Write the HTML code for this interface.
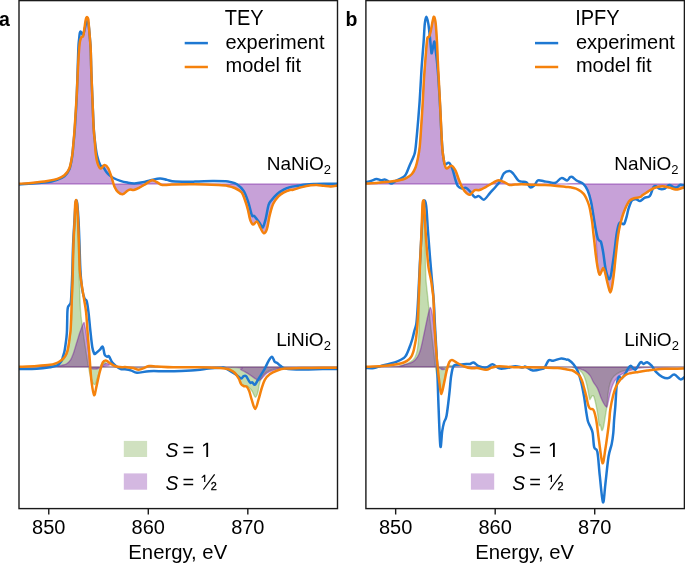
<!DOCTYPE html>
<html><head><meta charset="utf-8"><style>
html,body{margin:0;padding:0;background:#fff;}
body{width:685px;height:564px;overflow:hidden;}
svg{display:block;will-change:transform;font-family:"Liberation Sans",sans-serif;fill:#000;}
svg text{fill:#000;}
</style></head><body>
<svg width="685" height="564" viewBox="0 0 685 564">
<defs>
<clipPath id="ca"><rect x="19" y="0" width="318.5" height="508.5"/></clipPath>
<clipPath id="cb"><rect x="365.9" y="0" width="318.7" height="508.5"/></clipPath>
</defs>
<rect width="685" height="564" fill="#fff"/>
<g clip-path="url(#ca)">
<path d="M19,183.8 C21.37,183.62 28.47,183.17 33.2,182.7 C37.93,182.23 43.38,181.63 47.4,181 C51.42,180.37 54.47,179.85 57.3,178.9 C60.13,177.95 62.38,177.08 64.4,175.3 C66.42,173.52 68.1,171.5 69.4,168.2 C70.7,164.9 71.5,159.98 72.2,155.5 C72.9,151.02 73.2,145.7 73.6,141.3 C74,136.9 74.08,136.8 74.6,129.1 C75.12,121.4 76.1,106.08 76.7,95.1 C77.3,84.12 77.8,70.77 78.2,63.2 C78.6,55.63 78.82,53.25 79.1,49.7 C79.38,46.15 79.53,43.97 79.9,41.9 C80.27,39.83 80.77,38.25 81.3,37.3 C81.83,36.35 82.65,37.2 83.1,36.2 C83.55,35.2 83.68,33.3 84,31.3 C84.32,29.3 84.67,26.33 85,24.2 C85.33,22.07 85.63,19.68 86,18.5 C86.37,17.32 86.82,16.98 87.2,17.1 C87.58,17.22 88,17.43 88.3,19.2 C88.6,20.97 88.73,24.5 89,27.7 C89.27,30.9 89.62,34.73 89.9,38.4 C90.18,42.07 90.45,43.8 90.7,49.7 C90.95,55.6 91.07,64.47 91.4,73.8 C91.73,83.13 92.32,96.48 92.7,105.7 C93.08,114.92 93.37,123.38 93.7,129.1 C94.03,134.82 94.35,135.85 94.7,140 C95.05,144.15 95.32,150.1 95.8,154 C96.28,157.9 96.82,160.97 97.6,163.4 C98.38,165.83 99.33,168.32 100.5,168.6 C101.67,168.88 103.33,165.2 104.6,165.1 C105.87,165 106.93,165.95 108.1,168 C109.27,170.05 110.53,174.28 111.6,177.4 C112.67,180.52 113.43,184.27 114.5,186.7 C115.57,189.13 116.63,190.73 118,192 C119.37,193.27 121.13,194.5 122.7,194.3 C124.27,194.1 126.13,191.58 127.4,190.8 C128.67,190.02 129.23,189.73 130.3,189.6 C131.37,189.47 132.35,190.28 133.8,190 C135.25,189.72 136.97,188.93 139,187.9 C141.03,186.87 143.85,185.07 146,183.8 C148.15,182.53 150.13,180.6 151.9,180.3 C153.67,180 154.85,181.22 156.6,182 C158.35,182.78 159.88,184.58 162.4,185 C164.92,185.42 166.27,184.62 171.7,184.5 C177.13,184.38 187.22,184.2 195,184.3 C202.78,184.4 212.95,184.83 218.4,185.1 C223.85,185.37 224.98,185.42 227.7,185.9 C230.42,186.38 232.4,186.93 234.7,188 C237,189.07 239.78,190.25 241.5,192.3 C243.22,194.35 243.93,197.42 245,200.3 C246.07,203.18 247.03,206.33 247.9,209.6 C248.77,212.87 249.35,217.42 250.2,219.9 C251.05,222.38 251.85,224.22 253,224.5 C254.15,224.78 255.85,221.02 257.1,221.6 C258.35,222.18 259.4,226.07 260.5,228 C261.6,229.93 262.63,233.02 263.7,233.2 C264.77,233.38 265.9,232.08 266.9,229.1 C267.9,226.12 268.65,219.52 269.7,215.3 C270.75,211.08 271.75,206.97 273.2,203.8 C274.65,200.63 276.58,198.22 278.4,196.3 C280.22,194.38 282.17,193.35 284.1,192.3 C286.03,191.25 288.5,190.43 290,190 C291.5,189.57 291.12,190.18 293.1,189.7 C295.08,189.22 298.97,187.83 301.9,187.1 C304.83,186.37 308.22,185.67 310.7,185.3 C313.18,184.93 314.62,184.82 316.8,184.9 C318.98,184.98 321.47,185.53 323.8,185.8 C326.13,186.07 328.52,186.53 330.8,186.5 C333.08,186.47 336.38,185.75 337.5,185.6 L337.5,183.95 L19,183.95 Z" fill="rgb(104,1,150)" fill-opacity="0.37" stroke="rgb(104,1,150)" stroke-opacity="0.37" stroke-width="1.4" stroke-linejoin="round"/>
<path d="M19,367 C24.17,366.8 43.88,366.27 50,365.8 C56.12,365.33 54.05,364.8 55.7,364.2 C57.35,363.6 58.6,363 59.9,362.2 C61.2,361.4 62.48,360.47 63.5,359.4 C64.52,358.33 65.3,357.2 66,355.8 C66.7,354.4 67.2,352.97 67.7,351 C68.2,349.03 68.63,346.33 69,344 C69.37,341.67 69.6,339.33 69.9,337 C70.2,334.67 70.53,333.17 70.8,330 C71.07,326.83 71.28,323 71.5,318 C71.72,313 71.88,306.33 72.1,300 C72.32,293.67 72.53,289.22 72.8,280 C73.07,270.78 73.37,254.37 73.7,244.7 C74.03,235.03 74.38,229.2 74.8,222 C75.22,214.8 75.75,201.5 76.2,201.5 C76.65,201.5 77.15,214.75 77.5,222 C77.85,229.25 78.05,237 78.3,245 C78.55,253 78.8,263.33 79,270 C79.2,276.67 79.25,278.33 79.5,285 C79.75,291.67 80.07,303.37 80.5,310 C80.93,316.63 81.48,319.83 82.1,324.8 C82.72,329.77 83.43,334.62 84.2,339.8 C84.97,344.98 85.98,351.37 86.7,355.9 C87.42,360.43 87.78,363.32 88.5,367 C89.22,370.68 89.95,375.07 91,378 C92.05,380.93 93.63,384.93 94.8,384.6 C95.97,384.27 96.97,378.93 98,376 C99.03,373.07 100.08,369.37 101,367 C101.92,364.63 102.67,362.47 103.5,361.8 C104.33,361.13 104.92,362.13 106,363 C107.08,363.87 90.67,366.32 110,367 C129.33,367.68 202.5,366.97 222,367.1 C241.5,367.23 225.58,367.43 227,367.8 C228.42,368.17 229.18,368.5 230.5,369.3 C231.82,370.1 233.53,371.15 234.9,372.6 C236.27,374.05 237.67,376.22 238.7,378 C239.73,379.78 240.28,382.08 241.1,383.3 C241.92,384.52 242.67,384.85 243.6,385.3 C244.53,385.75 245.72,385.55 246.7,386 C247.68,386.45 248.62,387.17 249.5,388 C250.38,388.83 251.02,389.47 252,391 C252.98,392.53 254.42,397 255.4,397.2 C256.38,397.4 257.17,394.68 257.9,392.2 C258.63,389.72 258.87,385.2 259.8,382.3 C260.73,379.4 261.85,376.77 263.5,374.8 C265.15,372.83 267.42,371.53 269.7,370.5 C271.98,369.47 274.65,369.08 277.2,368.6 C279.75,368.12 281.2,367.85 285,367.6 C288.8,367.35 291.25,367.2 300,367.1 C308.75,367 331.25,367.02 337.5,367 L337.5,367 L19,367 Z" fill="rgb(95,160,42)" fill-opacity="0.37" stroke="rgb(95,160,42)" stroke-opacity="0.37" stroke-width="1.4" stroke-linejoin="round"/>
<path d="M19,367 C25.35,366.8 49.93,366.1 57.1,365.8 C64.27,365.5 60.47,365.5 62,365.2 C63.53,364.9 64.87,364.9 66.3,364 C67.73,363.1 69.42,361.57 70.6,359.8 C71.78,358.03 72.47,356 73.4,353.4 C74.33,350.8 75.37,346.92 76.2,344.2 C77.03,341.48 77.77,339.12 78.4,337.1 C79.03,335.08 79.12,334.48 80,332.1 C80.88,329.72 82.92,323.9 83.7,322.8 C84.48,321.7 84.35,324.12 84.7,325.5 C85.05,326.88 85.42,328.68 85.8,331.1 C86.18,333.52 86.58,336.85 87,340 C87.42,343.15 87.9,346.67 88.3,350 C88.7,353.33 89.08,357.17 89.4,360 C89.72,362.83 89.77,365.53 90.2,367 C90.63,368.47 91.13,368.45 92,368.8 C92.87,369.15 94.4,369.15 95.4,369.1 C96.4,369.05 97.07,368.85 98,368.5 C98.93,368.15 100,367.67 101,367 C102,366.33 102.97,365.08 104,364.5 C105.03,363.92 106.2,363.45 107.2,363.5 C108.2,363.55 108.97,364.22 110,364.8 C111.03,365.38 93.4,366.6 113.4,367 C133.4,367.4 208.72,366.73 230,367.2 C251.28,367.67 237.8,368.53 241.1,369.8 C244.4,371.07 247.3,373.23 249.8,374.8 C252.3,376.37 254.53,378.27 256.1,379.2 C257.67,380.13 258.17,380.62 259.2,380.4 C260.23,380.18 260.97,379.13 262.3,377.9 C263.63,376.67 265.13,374.35 267.2,373 C269.27,371.65 271.73,370.63 274.7,369.8 C277.67,368.97 280.78,368.43 285,368 C289.22,367.57 291.25,367.37 300,367.2 C308.75,367.03 331.25,367.03 337.5,367 L337.5,367 L19,367 Z" fill="rgb(104,1,150)" fill-opacity="0.37" stroke="rgb(104,1,150)" stroke-opacity="0.37" stroke-width="1.4" stroke-linejoin="round"/>
<path d="M19,184.4 C23.67,184.05 40.67,183.07 47,182.3 C53.33,181.53 54.1,180.8 57,179.8 C59.9,178.8 62.33,178.05 64.4,176.3 C66.47,174.55 68.13,172.43 69.4,169.3 C70.67,166.17 71.32,161.88 72,157.5 C72.68,153.12 73.03,147.75 73.5,143 C73.97,138.25 74.25,136.98 74.8,129 C75.35,121.02 76.22,108.32 76.8,95.1 C77.38,81.88 77.9,59.15 78.3,49.7 C78.7,40.25 78.95,41.18 79.2,38.4 C79.45,35.62 79.58,34.17 79.8,33 C80.02,31.83 80.18,31.45 80.5,31.4 C80.82,31.35 81.28,32.07 81.7,32.7 C82.12,33.33 82.53,35.65 83,35.2 C83.47,34.75 84,31.95 84.5,30 C85,28.05 85.55,24.92 86,23.5 C86.45,22.08 86.82,21.58 87.2,21.5 C87.58,21.42 88,21.92 88.3,23 C88.6,24.08 88.73,25.43 89,28 C89.27,30.57 89.62,34.78 89.9,38.4 C90.18,42.02 90.45,43.8 90.7,49.7 C90.95,55.6 91.07,64.47 91.4,73.8 C91.73,83.13 92.3,96.48 92.7,105.7 C93.1,114.92 93.42,123.05 93.8,129.1 C94.18,135.15 94.47,137.65 95,142 C95.53,146.35 96.08,151.25 97,155.2 C97.92,159.15 99.53,163.85 100.5,165.7 C101.47,167.55 101.82,165.23 102.8,166.3 C103.78,167.37 105.32,170.65 106.4,172.1 C107.48,173.55 108.13,174.02 109.3,175 C110.47,175.98 111.55,177.02 113.4,178 C115.25,178.98 118.07,180.13 120.4,180.9 C122.73,181.67 125.07,182.18 127.4,182.6 C129.73,183.02 131.87,183.45 134.4,183.4 C136.93,183.35 139.88,182.82 142.6,182.3 C145.32,181.78 147.8,180.93 150.7,180.3 C153.6,179.67 157.28,178.57 160,178.5 C162.72,178.43 164.47,179.38 167,179.9 C169.53,180.42 170.53,181.32 175.2,181.6 C179.87,181.88 188.77,181.7 195,181.6 C201.23,181.5 207.53,181.05 212.6,181 C217.67,180.95 222.5,181.15 225.4,181.3 C228.3,181.45 228.08,181.42 230,181.9 C231.92,182.38 234.6,182.67 236.9,184.2 C239.2,185.73 241.88,188.03 243.8,191.1 C245.72,194.17 247.05,198.57 248.4,202.6 C249.75,206.63 250.93,213.08 251.9,215.3 C252.87,217.52 253.43,215.32 254.2,215.9 C254.97,216.48 255.55,217.55 256.5,218.8 C257.45,220.05 258.85,221.97 259.9,223.4 C260.95,224.83 261.83,228.17 262.8,227.4 C263.77,226.63 264.73,222.55 265.7,218.8 C266.67,215.05 267.63,207.98 268.6,204.9 C269.57,201.82 270.07,202.12 271.5,200.3 C272.93,198.48 275.1,195.82 277.2,194 C279.3,192.18 281.97,190.55 284.1,189.4 C286.23,188.25 287.77,187.7 290,187.1 C292.23,186.5 294.78,186.23 297.5,185.8 C300.22,185.37 303.38,184.8 306.3,184.5 C309.22,184.2 312.08,184.12 315,184 C317.92,183.88 320.05,183.83 323.8,183.8 C327.55,183.77 335.22,183.8 337.5,183.8" fill="none" stroke="#1e78d2" stroke-width="2.5" stroke-linejoin="round" stroke-linecap="round"/>
<path d="M19,183.8 C21.37,183.62 28.47,183.17 33.2,182.7 C37.93,182.23 43.38,181.63 47.4,181 C51.42,180.37 54.47,179.85 57.3,178.9 C60.13,177.95 62.38,177.08 64.4,175.3 C66.42,173.52 68.1,171.5 69.4,168.2 C70.7,164.9 71.5,159.98 72.2,155.5 C72.9,151.02 73.2,145.7 73.6,141.3 C74,136.9 74.08,136.8 74.6,129.1 C75.12,121.4 76.1,106.08 76.7,95.1 C77.3,84.12 77.8,70.77 78.2,63.2 C78.6,55.63 78.82,53.25 79.1,49.7 C79.38,46.15 79.53,43.97 79.9,41.9 C80.27,39.83 80.77,38.25 81.3,37.3 C81.83,36.35 82.65,37.2 83.1,36.2 C83.55,35.2 83.68,33.3 84,31.3 C84.32,29.3 84.67,26.33 85,24.2 C85.33,22.07 85.63,19.68 86,18.5 C86.37,17.32 86.82,16.98 87.2,17.1 C87.58,17.22 88,17.43 88.3,19.2 C88.6,20.97 88.73,24.5 89,27.7 C89.27,30.9 89.62,34.73 89.9,38.4 C90.18,42.07 90.45,43.8 90.7,49.7 C90.95,55.6 91.07,64.47 91.4,73.8 C91.73,83.13 92.32,96.48 92.7,105.7 C93.08,114.92 93.37,123.38 93.7,129.1 C94.03,134.82 94.35,135.85 94.7,140 C95.05,144.15 95.32,150.1 95.8,154 C96.28,157.9 96.82,160.97 97.6,163.4 C98.38,165.83 99.33,168.32 100.5,168.6 C101.67,168.88 103.33,165.2 104.6,165.1 C105.87,165 106.93,165.95 108.1,168 C109.27,170.05 110.53,174.28 111.6,177.4 C112.67,180.52 113.43,184.27 114.5,186.7 C115.57,189.13 116.63,190.73 118,192 C119.37,193.27 121.13,194.5 122.7,194.3 C124.27,194.1 126.13,191.58 127.4,190.8 C128.67,190.02 129.23,189.73 130.3,189.6 C131.37,189.47 132.35,190.28 133.8,190 C135.25,189.72 136.97,188.93 139,187.9 C141.03,186.87 143.85,185.07 146,183.8 C148.15,182.53 150.13,180.6 151.9,180.3 C153.67,180 154.85,181.22 156.6,182 C158.35,182.78 159.88,184.58 162.4,185 C164.92,185.42 166.27,184.62 171.7,184.5 C177.13,184.38 187.22,184.2 195,184.3 C202.78,184.4 212.95,184.83 218.4,185.1 C223.85,185.37 224.98,185.42 227.7,185.9 C230.42,186.38 232.4,186.93 234.7,188 C237,189.07 239.78,190.25 241.5,192.3 C243.22,194.35 243.93,197.42 245,200.3 C246.07,203.18 247.03,206.33 247.9,209.6 C248.77,212.87 249.35,217.42 250.2,219.9 C251.05,222.38 251.85,224.22 253,224.5 C254.15,224.78 255.85,221.02 257.1,221.6 C258.35,222.18 259.4,226.07 260.5,228 C261.6,229.93 262.63,233.02 263.7,233.2 C264.77,233.38 265.9,232.08 266.9,229.1 C267.9,226.12 268.65,219.52 269.7,215.3 C270.75,211.08 271.75,206.97 273.2,203.8 C274.65,200.63 276.58,198.22 278.4,196.3 C280.22,194.38 282.17,193.35 284.1,192.3 C286.03,191.25 288.5,190.43 290,190 C291.5,189.57 291.12,190.18 293.1,189.7 C295.08,189.22 298.97,187.83 301.9,187.1 C304.83,186.37 308.22,185.67 310.7,185.3 C313.18,184.93 314.62,184.82 316.8,184.9 C318.98,184.98 321.47,185.53 323.8,185.8 C326.13,186.07 328.52,186.53 330.8,186.5 C333.08,186.47 336.38,185.75 337.5,185.6" fill="none" stroke="#f5820c" stroke-width="2.5" stroke-linejoin="round" stroke-linecap="round"/>
<path d="M19,369 C21.95,368.97 31.53,369.1 36.7,368.8 C41.87,368.5 46.6,367.75 50,367.2 C53.4,366.65 55.22,366.5 57.1,365.5 C58.98,364.5 60.3,362.75 61.3,361.2 C62.3,359.65 62.57,357.85 63.1,356.2 C63.63,354.55 64.08,353.3 64.5,351.3 C64.92,349.3 65.27,346.57 65.6,344.2 C65.93,341.83 66.27,339.47 66.5,337.1 C66.73,334.73 66.85,334.18 67,330 C67.15,325.82 67.23,315.83 67.4,312 C67.57,308.17 67.68,308.17 68,307 C68.32,305.83 68.82,305.92 69.3,305 C69.78,304.08 70.48,304.83 70.9,301.5 C71.32,298.17 71.55,290.25 71.8,285 C72.05,279.75 72.18,276.67 72.4,270 C72.62,263.33 72.77,253 73.1,245 C73.43,237 74,228.83 74.4,222 C74.8,215.17 75.17,207.62 75.5,204 C75.83,200.38 76.1,200.3 76.4,200.3 C76.7,200.3 76.93,200.38 77.3,204 C77.67,207.62 78.23,215.17 78.6,222 C78.97,228.83 79.2,237 79.5,245 C79.8,253 79.97,262.73 80.4,270 C80.83,277.27 81.42,283.85 82.1,288.6 C82.78,293.35 83.73,296.4 84.5,298.5 C85.27,300.6 86.03,298.88 86.7,301.2 C87.37,303.52 87.88,307.42 88.5,312.4 C89.12,317.38 89.77,325.3 90.4,331.1 C91.03,336.9 91.68,343.48 92.3,347.2 C92.92,350.92 93.58,352.33 94.1,353.4 C94.62,354.47 94.47,354.18 95.4,353.6 C96.33,353.02 98.47,351.03 99.7,349.9 C100.93,348.77 101.97,345.98 102.8,346.8 C103.63,347.62 103.97,353.15 104.7,354.8 C105.43,356.45 106.48,356.45 107.2,356.7 C107.92,356.95 108.18,355.37 109,356.3 C109.82,357.23 110.95,360.68 112.1,362.3 C113.25,363.92 114.45,364.87 115.9,366 C117.35,367.13 119.28,368.55 120.8,369.1 C122.32,369.65 123.23,369.05 125,369.3 C126.77,369.55 129.4,370.02 131.4,370.6 C133.4,371.18 134.05,372.7 137,372.8 C139.95,372.9 144.42,371.47 149.1,371.2 C153.78,370.93 159.75,371.25 165.1,371.2 C170.45,371.15 175.83,371.08 181.2,370.9 C186.57,370.72 192.75,370.5 197.3,370.1 C201.85,369.7 204.48,368.9 208.5,368.5 C212.52,368.1 218.65,367.78 221.4,367.7 C224.15,367.62 223.37,367.33 225,368 C226.63,368.67 229.33,370.57 231.2,371.7 C233.07,372.83 234.55,373.67 236.2,374.8 C237.85,375.93 239.87,378.28 241.1,378.5 C242.33,378.72 242.77,376.5 243.6,376.1 C244.43,375.7 245.27,375.38 246.1,376.1 C246.93,376.82 247.87,379.27 248.6,380.4 C249.33,381.53 249.88,382.58 250.5,382.9 C251.12,383.22 251.58,381.98 252.3,382.3 C253.02,382.62 253.97,385.02 254.8,384.8 C255.63,384.58 256.27,382.67 257.3,381 C258.33,379.33 259.75,376.87 261,374.8 C262.25,372.73 263.55,370.88 264.8,368.6 C266.05,366.32 267.3,363.07 268.5,361.1 C269.7,359.13 270.97,356.68 272,356.8 C273.03,356.92 273.83,360.77 274.7,361.8 C275.57,362.83 276.17,362.28 277.2,363 C278.23,363.72 279.55,365.2 280.9,366.1 C282.25,367 281.9,367.83 285.3,368.4 C288.7,368.97 295.08,369.38 301.3,369.5 C307.52,369.62 316.57,369.2 322.6,369.1 C328.63,369 335.02,368.93 337.5,368.9" fill="none" stroke="#1e78d2" stroke-width="2.5" stroke-linejoin="round" stroke-linecap="round"/>
<path d="M19,366.8 C21.95,366.65 31.53,366.23 36.7,365.9 C41.87,365.57 46.83,365.23 50,364.8 C53.17,364.37 54.05,363.9 55.7,363.3 C57.35,362.7 58.6,362.02 59.9,361.2 C61.2,360.38 62.48,359.47 63.5,358.4 C64.52,357.33 65.3,356.22 66,354.8 C66.7,353.38 67.2,351.9 67.7,349.9 C68.2,347.9 68.63,345.17 69,342.8 C69.37,340.43 69.63,337.83 69.9,335.7 C70.17,333.57 70.38,332.95 70.6,330 C70.82,327.05 71,323 71.2,318 C71.4,313 71.57,306.33 71.8,300 C72.03,293.67 72.33,289.22 72.6,280 C72.87,270.78 73.07,254.43 73.4,244.7 C73.73,234.97 74.3,228.38 74.6,221.6 C74.9,214.82 74.95,207.62 75.2,204 C75.45,200.38 75.8,199.9 76.1,199.9 C76.4,199.9 76.67,200.38 77,204 C77.33,207.62 77.77,214.82 78.1,221.6 C78.43,228.38 78.72,236.63 79,244.7 C79.28,252.77 79.35,263.3 79.8,270 C80.25,276.7 80.97,279.9 81.7,284.9 C82.43,289.9 83.47,295.42 84.2,300 C84.93,304.58 85.55,307.22 86.1,312.4 C86.65,317.58 87.08,325.67 87.5,331.1 C87.92,336.53 88.32,341.52 88.6,345 C88.88,348.48 88.93,348.5 89.2,352 C89.47,355.5 89.8,360.98 90.2,366 C90.6,371.02 90.95,377.23 91.6,382.1 C92.25,386.97 93.27,394.57 94.1,395.2 C94.93,395.83 95.67,389.73 96.6,385.9 C97.53,382.07 98.67,376.13 99.7,372.2 C100.73,368.27 101.77,364.27 102.8,362.3 C103.83,360.33 104.77,360.3 105.9,360.4 C107.03,360.5 108.15,361.97 109.6,362.9 C111.05,363.83 112.52,365.28 114.6,366 C116.68,366.72 120.37,367.05 122.1,367.2 C123.83,367.35 123.18,366.77 125,366.9 C126.82,367.03 130.58,367.55 133,368 C135.42,368.45 136.82,369.92 139.5,369.6 C142.18,369.28 146.17,366.62 149.1,366.1 C152.03,365.58 153.08,366.3 157.1,366.5 C161.12,366.7 166.5,367.17 173.2,367.3 C179.9,367.43 190.35,367.23 197.3,367.3 C204.25,367.37 210.28,367.48 214.9,367.7 C219.52,367.92 222.48,368.25 225,368.6 C227.52,368.95 228.35,369.07 230,369.8 C231.65,370.53 233.45,371.55 234.9,373 C236.35,374.45 237.67,376.65 238.7,378.5 C239.73,380.35 240.28,382.85 241.1,384.1 C241.92,385.35 242.67,385.58 243.6,386 C244.53,386.42 245.77,385.77 246.7,386.6 C247.63,387.43 248.37,388.82 249.2,391 C250.03,393.18 250.7,396.7 251.7,399.7 C252.7,402.7 254.07,409 255.2,409 C256.33,409 257.43,403.12 258.5,399.7 C259.57,396.28 260.55,391.82 261.6,388.5 C262.65,385.18 263.45,382.18 264.8,379.8 C266.15,377.42 267.63,375.75 269.7,374.2 C271.77,372.65 274.65,371.43 277.2,370.5 C279.75,369.57 280.98,369 285,368.6 C289.02,368.2 295.03,368.25 301.3,368.1 C307.57,367.95 316.57,367.77 322.6,367.7 C328.63,367.63 335.02,367.7 337.5,367.7" fill="none" stroke="#f5820c" stroke-width="2.5" stroke-linejoin="round" stroke-linecap="round"/>
</g>
<g clip-path="url(#cb)">
<path d="M366,183.6 C368.07,183.45 374.27,183.05 378.4,182.7 C382.53,182.35 387.28,181.92 390.8,181.5 C394.32,181.08 397.02,180.72 399.5,180.2 C401.98,179.68 403.63,179.43 405.7,178.4 C407.77,177.37 410.25,175.87 411.9,174 C413.55,172.13 414.57,169.98 415.6,167.2 C416.63,164.42 417.4,160.83 418.1,157.3 C418.8,153.77 419.27,151.38 419.8,146 C420.33,140.62 420.83,131.88 421.3,125 C421.77,118.12 422.18,111.87 422.6,104.7 C423.02,97.53 423.47,87.78 423.8,82 C424.13,76.22 424.27,74.57 424.6,70 C424.93,65.43 425.35,59.85 425.8,54.6 C426.25,49.35 426.73,41.5 427.3,38.5 C427.87,35.5 428.58,38.05 429.2,36.6 C429.82,35.15 430.38,32.58 431,29.8 C431.62,27.02 432.38,22.07 432.9,19.9 C433.42,17.73 433.63,16.18 434.1,16.8 C434.57,17.42 435.22,19.37 435.7,23.6 C436.18,27.83 436.65,36 437,42.2 C437.35,48.4 437.52,54.83 437.8,60.8 C438.08,66.77 438.32,70.68 438.7,78 C439.08,85.32 439.67,96.03 440.1,104.7 C440.53,113.37 440.93,122.68 441.3,130 C441.67,137.32 441.93,143.93 442.3,148.6 C442.67,153.27 443.08,155.27 443.5,158 C443.92,160.73 444.27,163.23 444.8,165 C445.33,166.77 445.6,168.48 446.7,168.6 C447.8,168.72 449.95,165.4 451.4,165.7 C452.85,166 454.15,168.07 455.4,170.4 C456.65,172.73 457.73,176.78 458.9,179.7 C460.07,182.62 461.13,185.67 462.4,187.9 C463.67,190.13 465.23,191.97 466.5,193.1 C467.77,194.23 468.63,195.18 470,194.7 C471.37,194.22 473.13,190.98 474.7,190.2 C476.27,189.42 477.45,190.58 479.4,190 C481.35,189.42 484.07,187.93 486.4,186.7 C488.73,185.47 491.37,183.67 493.4,182.6 C495.43,181.53 496.65,180.3 498.6,180.3 C500.55,180.3 503.25,181.82 505.1,182.6 C506.95,183.38 506.93,184.73 509.7,185 C512.47,185.27 517.75,184.23 521.7,184.2 C525.65,184.17 529.52,184.75 533.4,184.8 C537.28,184.85 541.12,184.6 545,184.5 C548.88,184.4 553.18,184.28 556.7,184.2 C560.22,184.12 563.05,184.1 566.1,184 C569.15,183.9 572.13,183.62 575,183.6 C577.87,183.58 581.18,182.75 583.3,183.9 C585.42,185.05 586.42,187.55 587.7,190.5 C588.98,193.45 590.07,197.53 591,201.6 C591.93,205.67 592.63,210.47 593.3,214.9 C593.97,219.33 594.48,223.18 595,228.2 C595.52,233.22 595.95,238.37 596.4,245 C596.85,251.63 597.18,263.05 597.7,268 C598.22,272.95 598.87,274.12 599.5,274.7 C600.13,275.28 600.88,272.62 601.5,271.5 C602.12,270.38 602.63,267.92 603.2,268 C603.77,268.08 604.33,270.15 604.9,272 C605.47,273.85 606,276.6 606.6,279.1 C607.2,281.6 607.88,284.78 608.5,287 C609.12,289.22 609.73,292.32 610.3,292.4 C610.87,292.48 611.42,289.72 611.9,287.5 C612.38,285.28 612.8,282.02 613.2,279.1 C613.6,276.18 613.93,273.32 614.3,270 C614.67,266.68 614.85,264.33 615.4,259.2 C615.95,254.07 616.97,244.23 617.6,239.2 C618.23,234.17 618.63,231.95 619.2,229 C619.77,226.05 620.37,223.92 621,221.5 C621.63,219.08 622.27,216.72 623,214.5 C623.73,212.28 624.65,209.98 625.4,208.2 C626.15,206.42 626.77,205.08 627.5,203.8 C628.23,202.52 628.68,201.42 629.8,200.5 C630.92,199.58 632.5,198.85 634.2,198.3 C635.9,197.75 638.58,197.73 640,197.2 C641.42,196.67 641.37,196.03 642.7,195.1 C644.03,194.17 646.08,192.78 648,191.6 C649.92,190.42 651.83,188.88 654.2,188 C656.57,187.12 659.68,186.37 662.2,186.3 C664.72,186.23 667.08,187.08 669.3,187.6 C671.52,188.12 673.72,189.2 675.5,189.4 C677.28,189.6 678.5,189.17 680,188.8 C681.5,188.43 683.75,187.47 684.5,187.2 L684.5,183.95 L366,183.95 Z" fill="rgb(104,1,150)" fill-opacity="0.37" stroke="rgb(104,1,150)" stroke-opacity="0.37" stroke-width="1.4" stroke-linejoin="round"/>
<path d="M366,367 C370.83,366.92 389.33,366.7 395,366.5 C400.67,366.3 398,366.27 400,365.8 C402,365.33 404.78,364.72 407,363.7 C409.22,362.68 411.72,361.42 413.3,359.7 C414.88,357.98 415.72,355.9 416.5,353.4 C417.28,350.9 417.58,348.6 418,344.7 C418.42,340.8 418.73,339.95 419,330 C419.27,320.05 419.37,295.83 419.6,285 C419.83,274.17 420.12,272 420.4,265 C420.68,258 420.93,251.33 421.3,243 C421.67,234.67 422.2,221.83 422.6,215 C423,208.17 423.37,202 423.7,202 C424.03,202 424.35,208.67 424.6,215 C424.85,221.33 425.05,231.67 425.2,240 C425.35,248.33 425.37,258.33 425.5,265 C425.63,271.67 425.62,274.55 426,280 C426.38,285.45 427.05,290.32 427.8,297.7 C428.55,305.08 429.52,315.42 430.5,324.3 C431.48,333.18 432.88,343.88 433.7,351 C434.52,358.12 434.68,362.17 435.4,367 C436.12,371.83 437.02,376.08 438,380 C438.98,383.92 440.22,390.5 441.3,390.5 C442.38,390.5 443.62,383.92 444.5,380 C445.38,376.08 445.68,369.42 446.6,367 C447.52,364.58 448.6,365.58 450,365.5 C451.4,365.42 452.5,366.25 455,366.5 C457.5,366.75 445.83,366.92 465,367 C484.17,367.08 552.17,366.97 570,367 C587.83,367.03 571.08,367.03 572,367.2 C572.92,367.37 574.43,367.65 575.5,368 C576.57,368.35 577.22,368.38 578.4,369.3 C579.58,370.22 581.37,371.55 582.6,373.5 C583.83,375.45 584.9,378.17 585.8,381 C586.7,383.83 587.37,387.5 588,390.5 C588.63,393.5 589.13,397.75 589.6,399 C590.07,400.25 590.37,398.52 590.8,398 C591.23,397.48 591.7,396.17 592.2,395.9 C592.7,395.63 593.27,395.35 593.8,396.4 C594.33,397.45 594.78,399.45 595.4,402.2 C596.02,404.95 596.88,409.1 597.5,412.9 C598.12,416.7 598.62,422.97 599.1,425 C599.58,427.03 599.95,424.2 600.4,425.1 C600.85,426 601.28,430.08 601.8,430.4 C602.32,430.72 602.88,429.57 603.5,427 C604.12,424.43 604.95,418.38 605.5,415 C606.05,411.62 606.35,410.45 606.8,406.7 C607.25,402.95 607.62,396.52 608.2,392.5 C608.78,388.48 609.35,385.32 610.3,382.6 C611.25,379.88 612.23,377.97 613.9,376.2 C615.57,374.43 618.07,373.07 620.3,372 C622.53,370.93 624.85,370.47 627.3,369.8 C629.75,369.13 632.05,368.43 635,368 C637.95,367.57 636.75,367.37 645,367.2 C653.25,367.03 677.92,367.03 684.5,367 L684.5,367 L366,367 Z" fill="rgb(95,160,42)" fill-opacity="0.37" stroke="rgb(95,160,42)" stroke-opacity="0.37" stroke-width="1.4" stroke-linejoin="round"/>
<path d="M366,367 C370.83,366.97 388.5,367.2 395,366.8 C401.5,366.4 402.08,365.38 405,364.6 C407.92,363.82 410.43,363.35 412.5,362.1 C414.57,360.85 416.07,359.17 417.4,357.1 C418.73,355.03 419.47,353.22 420.5,349.7 C421.53,346.18 422.57,340.77 423.6,336 C424.63,331.23 425.83,325.1 426.7,321.1 C427.57,317.1 428.17,314.27 428.8,312 C429.43,309.73 429.93,307.17 430.5,307.5 C431.07,307.83 431.68,311.12 432.2,314 C432.72,316.88 432.95,319.27 433.6,324.8 C434.25,330.33 435.38,340.57 436.1,347.2 C436.82,353.83 437.28,361.18 437.9,364.6 C438.52,368.02 439.12,366.87 439.8,367.7 C440.48,368.53 441.13,369.38 442,369.6 C442.87,369.82 443.97,369.45 445,369 C446.03,368.55 427.37,367.23 448.2,366.9 C469.03,366.57 549.37,366.97 570,367 C590.63,367.03 570.6,366.87 572,367.1 C573.4,367.33 576.73,367.98 578.4,368.4 C580.07,368.82 580.77,369.1 582,369.6 C583.23,370.1 584.45,370.4 585.8,371.4 C587.15,372.4 588.85,373.83 590.1,375.6 C591.35,377.37 592.07,379.87 593.3,382 C594.53,384.13 596.27,385.92 597.5,388.4 C598.73,390.88 599.7,394.47 600.7,396.9 C601.7,399.33 602.6,401.37 603.5,403 C604.4,404.63 605.43,406.32 606.1,406.7 C606.77,407.08 606.8,407.67 607.5,405.3 C608.2,402.93 609.35,396.05 610.3,392.5 C611.25,388.95 612.02,386.48 613.2,384 C614.38,381.52 615.52,379.48 617.4,377.6 C619.28,375.72 622.37,373.88 624.5,372.7 C626.63,371.52 628.12,371.18 630.2,370.5 C632.28,369.82 634.53,369.1 637,368.6 C639.47,368.1 637.08,367.77 645,367.5 C652.92,367.23 677.92,367.08 684.5,367 L684.5,367 L366,367 Z" fill="rgb(104,1,150)" fill-opacity="0.37" stroke="rgb(104,1,150)" stroke-opacity="0.37" stroke-width="1.4" stroke-linejoin="round"/>
<path d="M366,182.1 C366.83,181.9 369.25,181.42 371,180.9 C372.75,180.38 374.85,179.12 376.5,179 C378.15,178.88 379.55,180.1 380.9,180.2 C382.25,180.3 383.47,179.48 384.6,179.6 C385.73,179.72 386.57,180.23 387.7,180.9 C388.83,181.57 390.05,183.6 391.4,183.6 C392.75,183.6 394.03,181.87 395.8,180.9 C397.57,179.93 400.35,178.83 402,177.8 C403.65,176.77 404.47,176.67 405.7,174.7 C406.93,172.73 408.05,169.12 409.4,166 C410.75,162.88 412.8,158.75 413.8,156 C414.8,153.25 414.78,154.17 415.4,149.5 C416.02,144.83 416.83,135.47 417.5,128 C418.17,120.53 418.88,111.87 419.4,104.7 C419.92,97.53 420.2,91.62 420.6,85 C421,78.38 421.3,72.13 421.8,65 C422.3,57.87 423.1,49.1 423.6,42.2 C424.1,35.3 424.33,27.83 424.8,23.6 C425.27,19.37 425.82,16.8 426.4,16.8 C426.98,16.8 427.73,20.4 428.3,23.6 C428.87,26.8 429.35,31.87 429.8,36 C430.25,40.13 430.68,45.52 431,48.4 C431.32,51.28 431.32,53.72 431.7,53.3 C432.08,52.88 432.83,47.85 433.3,45.9 C433.77,43.95 434.15,41.18 434.5,41.6 C434.85,42.02 434.98,45 435.4,48.4 C435.82,51.8 436.48,56.73 437,62 C437.52,67.27 438,72.83 438.5,80 C439,87.17 439.55,96.67 440,105 C440.45,113.33 440.78,122.5 441.2,130 C441.62,137.5 442.07,145 442.5,150 C442.93,155 443.4,157.58 443.8,160 C444.2,162.42 444.03,164.03 444.9,164.5 C445.77,164.97 447.73,162.02 449,162.8 C450.27,163.58 451.43,166.38 452.5,169.2 C453.57,172.02 454.52,176.88 455.4,179.7 C456.28,182.52 456.72,184.63 457.8,186.1 C458.88,187.57 460.53,188.2 461.9,188.5 C463.27,188.8 464.65,187.42 466,187.9 C467.35,188.38 468.55,189.85 470,191.4 C471.45,192.95 473.23,196.42 474.7,197.2 C476.17,197.98 477.25,195.7 478.8,196.1 C480.35,196.5 482.15,200.1 484,199.6 C485.85,199.1 487.95,195.25 489.9,193.1 C491.85,190.95 493.95,188.73 495.7,186.7 C497.45,184.67 499.03,183.13 500.4,180.9 C501.77,178.67 502.35,174.95 503.9,173.3 C505.45,171.65 508.1,170.88 509.7,171 C511.3,171.12 512.08,172.43 513.5,174 C514.92,175.57 516.83,179.13 518.2,180.4 C519.57,181.67 520.33,181.3 521.7,181.6 C523.07,181.9 524.95,181.23 526.4,182.2 C527.85,183.17 529.05,186.92 530.4,187.4 C531.75,187.88 533.23,186.27 534.5,185.1 C535.77,183.93 536.43,181.03 538,180.4 C539.57,179.77 541.95,181 543.9,181.3 C545.85,181.6 547.77,181.95 549.7,182.2 C551.63,182.45 553.55,183.48 555.5,182.8 C557.45,182.12 559.45,178.5 561.4,178.1 C563.35,177.7 565.77,180.55 567.2,180.4 C568.63,180.25 569.18,177.78 570,177.2 C570.82,176.62 571,176.35 572.1,176.9 C573.2,177.45 574.73,179.33 576.6,180.5 C578.47,181.67 581.45,182.23 583.3,183.9 C585.15,185.57 586.42,187.55 587.7,190.5 C588.98,193.45 590.07,197.53 591,201.6 C591.93,205.67 592.55,210.47 593.3,214.9 C594.05,219.33 594.77,224.33 595.5,228.2 C596.23,232.07 597.03,236 597.7,238.1 C598.37,240.2 598.95,240.15 599.5,240.8 C600.05,241.45 600.38,240.05 601,242 C601.62,243.95 602.47,248.17 603.2,252.5 C603.93,256.83 604.65,263.93 605.4,268 C606.15,272.07 607.03,275.05 607.7,276.9 C608.37,278.75 608.85,279.42 609.4,279.1 C609.95,278.78 610.55,276.85 611,275 C611.45,273.15 611.55,271.75 612.1,268 C612.65,264.25 613.57,258.03 614.3,252.5 C615.03,246.97 615.85,239.22 616.5,234.8 C617.15,230.38 617.65,228.03 618.2,226 C618.75,223.97 619.17,223.02 619.8,222.6 C620.43,222.18 621.25,223.32 622,223.5 C622.75,223.68 623.55,224.77 624.3,223.7 C625.05,222.63 625.77,219.68 626.5,217.1 C627.23,214.52 627.78,210.97 628.7,208.2 C629.62,205.43 630.7,201.97 632,200.5 C633.3,199.03 635.17,199.3 636.5,199.4 C637.83,199.5 638.67,201.37 640,201.1 C641.33,200.83 642.87,198.65 644.5,197.8 C646.13,196.95 648.32,197.77 649.8,196 C651.28,194.23 652.37,188.82 653.4,187.2 C654.43,185.58 654.97,186.02 656,186.3 C657.03,186.58 658.12,188.53 659.6,188.9 C661.08,189.27 663.28,189.15 664.9,188.5 C666.52,187.85 667.83,185.22 669.3,185 C670.77,184.78 672.37,186.83 673.7,187.2 C675.03,187.57 676.18,187.62 677.3,187.2 C678.42,186.78 679.2,185 680.4,184.7 C681.6,184.4 683.82,185.28 684.5,185.4" fill="none" stroke="#1e78d2" stroke-width="2.5" stroke-linejoin="round" stroke-linecap="round"/>
<path d="M366,183.6 C368.07,183.45 374.27,183.05 378.4,182.7 C382.53,182.35 387.28,181.92 390.8,181.5 C394.32,181.08 397.02,180.72 399.5,180.2 C401.98,179.68 403.63,179.43 405.7,178.4 C407.77,177.37 410.25,175.87 411.9,174 C413.55,172.13 414.57,169.98 415.6,167.2 C416.63,164.42 417.4,160.83 418.1,157.3 C418.8,153.77 419.27,151.38 419.8,146 C420.33,140.62 420.83,131.88 421.3,125 C421.77,118.12 422.18,111.87 422.6,104.7 C423.02,97.53 423.47,87.78 423.8,82 C424.13,76.22 424.27,74.57 424.6,70 C424.93,65.43 425.35,59.85 425.8,54.6 C426.25,49.35 426.73,41.5 427.3,38.5 C427.87,35.5 428.58,38.05 429.2,36.6 C429.82,35.15 430.38,32.58 431,29.8 C431.62,27.02 432.38,22.07 432.9,19.9 C433.42,17.73 433.63,16.18 434.1,16.8 C434.57,17.42 435.22,19.37 435.7,23.6 C436.18,27.83 436.65,36 437,42.2 C437.35,48.4 437.52,54.83 437.8,60.8 C438.08,66.77 438.32,70.68 438.7,78 C439.08,85.32 439.67,96.03 440.1,104.7 C440.53,113.37 440.93,122.68 441.3,130 C441.67,137.32 441.93,143.93 442.3,148.6 C442.67,153.27 443.08,155.27 443.5,158 C443.92,160.73 444.27,163.23 444.8,165 C445.33,166.77 445.6,168.48 446.7,168.6 C447.8,168.72 449.95,165.4 451.4,165.7 C452.85,166 454.15,168.07 455.4,170.4 C456.65,172.73 457.73,176.78 458.9,179.7 C460.07,182.62 461.13,185.67 462.4,187.9 C463.67,190.13 465.23,191.97 466.5,193.1 C467.77,194.23 468.63,195.18 470,194.7 C471.37,194.22 473.13,190.98 474.7,190.2 C476.27,189.42 477.45,190.58 479.4,190 C481.35,189.42 484.07,187.93 486.4,186.7 C488.73,185.47 491.37,183.67 493.4,182.6 C495.43,181.53 496.65,180.3 498.6,180.3 C500.55,180.3 503.25,181.82 505.1,182.6 C506.95,183.38 508.05,184.67 509.7,185 C511.35,185.33 513,184.73 515,184.6 C517,184.47 518.63,184.17 521.7,184.2 C524.77,184.23 529.52,184.65 533.4,184.8 C537.28,184.95 541.12,184.92 545,185.1 C548.88,185.28 553.18,185.6 556.7,185.9 C560.22,186.2 563.88,186.68 566.1,186.9 C568.32,187.12 568.35,186.92 570,187.2 C571.65,187.48 574.15,187.87 576,188.6 C577.85,189.33 579.63,190.45 581.1,191.6 C582.57,192.75 583.7,193.83 584.8,195.5 C585.9,197.17 586.9,199.6 587.7,201.6 C588.5,203.6 589.05,205.28 589.6,207.5 C590.15,209.72 590.55,212.32 591,214.9 C591.45,217.48 591.92,220.05 592.3,223 C592.68,225.95 592.93,229.27 593.3,232.6 C593.67,235.93 594.13,239.68 594.5,243 C594.87,246.32 595.15,249.5 595.5,252.5 C595.85,255.5 596.23,258.42 596.6,261 C596.97,263.58 597.22,265.72 597.7,268 C598.18,270.28 598.87,274.12 599.5,274.7 C600.13,275.28 600.88,272.62 601.5,271.5 C602.12,270.38 602.63,267.92 603.2,268 C603.77,268.08 604.33,270.15 604.9,272 C605.47,273.85 606,276.6 606.6,279.1 C607.2,281.6 607.88,284.78 608.5,287 C609.12,289.22 609.73,292.32 610.3,292.4 C610.87,292.48 611.42,289.72 611.9,287.5 C612.38,285.28 612.8,282.02 613.2,279.1 C613.6,276.18 613.93,273.32 614.3,270 C614.67,266.68 614.85,264.33 615.4,259.2 C615.95,254.07 616.97,244.23 617.6,239.2 C618.23,234.17 618.63,231.95 619.2,229 C619.77,226.05 620.37,223.92 621,221.5 C621.63,219.08 622.27,216.72 623,214.5 C623.73,212.28 624.65,209.98 625.4,208.2 C626.15,206.42 626.77,205.08 627.5,203.8 C628.23,202.52 628.68,201.42 629.8,200.5 C630.92,199.58 632.5,198.85 634.2,198.3 C635.9,197.75 638.58,197.73 640,197.2 C641.42,196.67 641.37,196.03 642.7,195.1 C644.03,194.17 646.08,192.78 648,191.6 C649.92,190.42 651.83,188.88 654.2,188 C656.57,187.12 659.68,186.37 662.2,186.3 C664.72,186.23 667.08,187.08 669.3,187.6 C671.52,188.12 673.72,189.2 675.5,189.4 C677.28,189.6 678.5,189.17 680,188.8 C681.5,188.43 683.75,187.47 684.5,187.2" fill="none" stroke="#f5820c" stroke-width="2.5" stroke-linejoin="round" stroke-linecap="round"/>
<path d="M366,368 C367.32,368 371.27,368.4 373.9,368 C376.53,367.6 379.17,366.32 381.8,365.6 C384.43,364.88 387.08,364.42 389.7,363.7 C392.32,362.98 395.15,362.25 397.5,361.3 C399.85,360.35 402.38,358.97 403.8,358 C405.22,357.03 405.3,356.63 406,355.5 C406.7,354.37 407.3,352.87 408,351.2 C408.7,349.53 409.45,347.62 410.2,345.5 C410.95,343.38 411.77,341.08 412.5,338.5 C413.23,335.92 413.97,332.42 414.6,330 C415.23,327.58 415.82,327.33 416.3,324 C416.78,320.67 417.12,315.67 417.5,310 C417.88,304.33 418.22,297.5 418.6,290 C418.98,282.5 419.32,274.17 419.8,265 C420.28,255.83 421,243.83 421.5,235 C422,226.17 422.47,217.25 422.8,212 C423.13,206.75 423.22,205.42 423.5,203.5 C423.78,201.58 424.13,200.58 424.5,200.5 C424.87,200.42 425.35,201.42 425.7,203 C426.05,204.58 426.23,205.5 426.6,210 C426.97,214.5 427.37,222.52 427.9,230 C428.43,237.48 429.17,247.02 429.8,254.9 C430.43,262.78 431.18,271.45 431.7,277.3 C432.22,283.15 432.52,285.38 432.9,290 C433.28,294.62 433.67,299.28 434,305 C434.33,310.72 434.5,316.63 434.9,324.3 C435.3,331.97 435.98,342.92 436.4,351 C436.82,359.08 437.03,363.25 437.4,372.8 C437.77,382.35 438.1,396.03 438.6,408.3 C439.1,420.57 439.8,442.57 440.4,446.4 C441,450.23 441.6,435.28 442.2,431.3 C442.8,427.32 443.27,425.15 444,422.5 C444.73,419.85 445.72,420.13 446.6,415.4 C447.48,410.67 448.55,400.62 449.3,394.1 C450.05,387.58 450.37,381.03 451.1,376.3 C451.83,371.57 452.37,367.62 453.7,365.7 C455.03,363.78 457.02,365.1 459.1,364.8 C461.18,364.5 464.38,364.03 466.2,363.9 C468.02,363.77 468.77,364.23 470,364 C471.23,363.77 472.13,362.13 473.6,362.5 C475.07,362.87 476.72,365.35 478.8,366.2 C480.88,367.05 483.8,367.92 486.1,367.6 C488.4,367.28 490.42,364.17 492.6,364.3 C494.78,364.43 496.88,367.77 499.2,368.4 C501.52,369.03 503.82,368.47 506.5,368.1 C509.18,367.73 512.62,366.28 515.3,366.2 C517.98,366.12 520.9,367.53 522.6,367.6 C524.3,367.67 523.8,366.12 525.5,366.6 C527.2,367.08 530.13,370.08 532.8,370.5 C535.47,370.92 539.55,369.58 541.5,369.1 C543.45,368.62 543.28,369.07 544.5,367.6 C545.72,366.13 547.35,361.43 548.8,360.3 C550.25,359.17 551.13,361.12 553.2,360.8 C555.27,360.48 559,358.6 561.2,358.4 C563.4,358.2 565.18,359.35 566.4,359.6 C567.62,359.85 567.32,359.13 568.5,359.9 C569.68,360.67 571.95,362.3 573.5,364.2 C575.05,366.1 576.5,368.23 577.8,371.3 C579.1,374.37 580.25,378.35 581.3,382.6 C582.35,386.85 583.27,391.85 584.1,396.8 C584.93,401.75 585.65,408.18 586.3,412.3 C586.95,416.42 587.35,419.15 588,421.5 C588.65,423.85 589.43,424.52 590.2,426.4 C590.97,428.28 591.93,429.33 592.6,432.8 C593.27,436.27 593.4,444 594.2,447.2 C595,450.4 596.47,447.22 597.4,452 C598.33,456.78 598.87,467.52 599.8,475.9 C600.73,484.28 602.07,500.97 603,502.3 C603.93,503.63 604.48,491.5 605.4,483.9 C606.32,476.3 607.45,463.35 608.5,456.7 C609.55,450.05 610.9,447.98 611.7,444 C612.5,440.02 612.9,436.8 613.3,432.8 C613.7,428.8 613.77,424.35 614.1,420 C614.43,415.65 614.87,412.47 615.3,406.7 C615.73,400.93 616.12,390.37 616.7,385.4 C617.28,380.43 617.97,378.08 618.8,376.9 C619.63,375.72 620.52,379 621.7,378.3 C622.88,377.6 624.9,374.22 625.9,372.7 C626.9,371.18 626.88,370.37 627.7,369.2 C628.52,368.03 629.55,365.62 630.8,365.7 C632.05,365.78 633.58,370.28 635.2,369.7 C636.82,369.12 639.1,363.17 640.5,362.2 C641.9,361.23 642.48,363.9 643.6,363.9 C644.72,363.9 645.87,361.9 647.2,362.2 C648.53,362.5 650.13,364.08 651.6,365.7 C653.07,367.32 654.23,370.05 656,371.9 C657.77,373.75 660.13,375.77 662.2,376.8 C664.27,377.83 666.4,378.47 668.4,378.1 C670.4,377.73 672.2,374.38 674.2,374.6 C676.2,374.82 678.68,378.97 680.4,379.4 C682.12,379.83 683.82,377.57 684.5,377.2" fill="none" stroke="#1e78d2" stroke-width="2.5" stroke-linejoin="round" stroke-linecap="round"/>
<path d="M366,366.8 C368.63,366.67 377.2,366.33 381.8,366 C386.4,365.67 390.32,365.25 393.6,364.8 C396.88,364.35 399.27,363.95 401.5,363.3 C403.73,362.65 405.43,361.9 407,360.9 C408.57,359.9 409.85,358.82 410.9,357.3 C411.95,355.78 412.63,353.9 413.3,351.8 C413.97,349.7 414.42,347.12 414.9,344.7 C415.38,342.28 415.78,340.62 416.2,337.3 C416.62,333.98 417.03,329.92 417.4,324.8 C417.77,319.68 418.1,313.23 418.4,306.6 C418.7,299.97 418.93,291.93 419.2,285 C419.47,278.07 419.7,271.97 420,265 C420.3,258.03 420.65,251.53 421,243.2 C421.35,234.87 421.85,221.53 422.1,215 C422.35,208.47 422.32,206.43 422.5,204 C422.68,201.57 422.93,200.4 423.2,200.4 C423.47,200.4 423.73,199.4 424.1,204 C424.47,208.6 424.93,220.33 425.4,228 C425.87,235.67 426.38,243.45 426.9,250 C427.42,256.55 427.82,262.33 428.5,267.3 C429.18,272.27 430.35,276.02 431,279.8 C431.65,283.58 431.98,286.68 432.4,290 C432.82,293.32 433.17,293.98 433.5,299.7 C433.83,305.42 433.95,315.75 434.4,324.3 C434.85,332.85 435.67,343.9 436.2,351 C436.73,358.1 437.05,361.5 437.6,366.9 C438.15,372.3 438.88,378.87 439.5,383.4 C440.12,387.93 440.55,394.1 441.3,394.1 C442.05,394.1 443.12,387.25 444,383.4 C444.88,379.55 445.72,374.55 446.6,371 C447.48,367.45 448.4,363.93 449.3,362.1 C450.2,360.27 450.67,359.85 452,360 C453.33,360.15 455.23,361.92 457.3,363 C459.37,364.08 462.03,365.62 464.4,366.5 C466.77,367.38 469.35,368.03 471.5,368.3 C473.65,368.57 474.87,367.85 477.3,368.1 C479.73,368.35 483.67,369.88 486.1,369.8 C488.53,369.72 489.72,368.2 491.9,367.6 C494.08,367 495.55,366.27 499.2,366.2 C502.85,366.13 508.93,367.03 513.8,367.2 C518.67,367.37 523.53,367.13 528.4,367.2 C533.27,367.27 538.13,367.45 543,367.6 C547.87,367.75 553.93,367.85 557.6,368.1 C561.27,368.35 562.6,368.73 565,369.1 C567.4,369.47 570.12,369.65 572,370.3 C573.88,370.95 575.07,372.12 576.3,373 C577.53,373.88 578.43,374.27 579.4,375.6 C580.37,376.93 581.3,378.87 582.1,381 C582.9,383.13 583.48,385.75 584.2,388.4 C584.92,391.05 585.77,394.23 586.4,396.9 C587.03,399.57 587.47,402.53 588,404.4 C588.53,406.27 589.07,407.33 589.6,408.1 C590.13,408.87 590.68,408.83 591.2,409 C591.72,409.17 592.18,408.63 592.7,409.1 C593.22,409.57 593.77,410.28 594.3,411.8 C594.83,413.32 595.45,416 595.9,418.2 C596.35,420.4 596.48,421.23 597,425 C597.52,428.77 598.08,434.45 599,440.8 C599.92,447.15 601.43,461.77 602.5,463.1 C603.57,464.43 604.53,453.85 605.4,448.8 C606.27,443.75 607.05,437.6 607.7,432.8 C608.35,428 608.87,423.88 609.3,420 C609.73,416.12 609.65,413.62 610.3,409.5 C610.95,405.38 612.25,399.08 613.2,395.3 C614.15,391.52 614.82,389.38 616,386.8 C617.18,384.22 618.65,381.8 620.3,379.8 C621.95,377.8 624.23,375.9 625.9,374.8 C627.57,373.7 628.23,373.68 630.3,373.2 C632.37,372.72 635.48,372.33 638.3,371.9 C641.12,371.47 644.25,371.02 647.2,370.6 C650.15,370.18 653.05,369.7 656,369.4 C658.95,369.1 661.95,368.9 664.9,368.8 C667.85,368.7 670.43,368.87 673.7,368.8 C676.97,368.73 682.7,368.47 684.5,368.4" fill="none" stroke="#f5820c" stroke-width="2.5" stroke-linejoin="round" stroke-linecap="round"/>
</g>
<rect x="19" y="0.6" width="318.5" height="508" fill="none" stroke="#1a1a1a" stroke-width="1.4"/>
<line x1="48.76" y1="508.6" x2="48.76" y2="514.5" stroke="#1a1a1a" stroke-width="1.4"/>
<text x="48.76" y="533.6" font-size="20" text-anchor="middle">850</text>
<line x1="148.29" y1="508.6" x2="148.29" y2="514.5" stroke="#1a1a1a" stroke-width="1.4"/>
<text x="148.29" y="533.6" font-size="20" text-anchor="middle">860</text>
<line x1="247.82" y1="508.6" x2="247.82" y2="514.5" stroke="#1a1a1a" stroke-width="1.4"/>
<text x="247.82" y="533.6" font-size="20" text-anchor="middle">870</text>
<text transform="translate(177.75,559) scale(1,1.03)" font-size="20.3" text-anchor="middle">Energy, eV</text>
<rect x="365.9" y="0.6" width="318.5" height="508" fill="none" stroke="#1a1a1a" stroke-width="1.4"/>
<line x1="395.66" y1="508.6" x2="395.66" y2="514.5" stroke="#1a1a1a" stroke-width="1.4"/>
<text x="395.66" y="533.6" font-size="20" text-anchor="middle">850</text>
<line x1="495.19" y1="508.6" x2="495.19" y2="514.5" stroke="#1a1a1a" stroke-width="1.4"/>
<text x="495.19" y="533.6" font-size="20" text-anchor="middle">860</text>
<line x1="594.72" y1="508.6" x2="594.72" y2="514.5" stroke="#1a1a1a" stroke-width="1.4"/>
<text x="594.72" y="533.6" font-size="20" text-anchor="middle">870</text>
<text transform="translate(524.65,559) scale(1,1.03)" font-size="20.3" text-anchor="middle">Energy, eV</text>
<text x="-0.9" y="25.8" font-size="19.5" font-weight="bold">a</text>
<text x="345.6" y="25.6" font-size="19.5" font-weight="bold">b</text>
<text transform="translate(224.8,24.9) scale(1,1.06)" font-size="20">TEY</text>
<line x1="184.7" y1="43.1" x2="207.9" y2="43.1" stroke="#1e78d2" stroke-width="2.5"/>
<text x="225.5" y="49" font-size="20">experiment</text>
<line x1="184.7" y1="67" x2="207.9" y2="67" stroke="#f5820c" stroke-width="2.5"/>
<text x="225.5" y="72.3" font-size="20">model fit</text>
<text transform="translate(575.2,24.9) scale(1,1.06)" font-size="20">IPFY</text>
<line x1="535" y1="43.1" x2="558.2" y2="43.1" stroke="#1e78d2" stroke-width="2.5"/>
<text x="575.9" y="49" font-size="20">experiment</text>
<line x1="535" y1="67" x2="558.2" y2="67" stroke="#f5820c" stroke-width="2.5"/>
<text x="575.9" y="72.3" font-size="20">model fit</text>
<text x="331" y="170.4" font-size="19" text-anchor="end">NaNiO<tspan font-size="13" dy="3.3">2</tspan></text>
<text x="330.9" y="345.9" font-size="19" text-anchor="end">LiNiO<tspan font-size="13" dy="3.8">2</tspan></text>
<text x="678.6" y="170.4" font-size="19" text-anchor="end">NaNiO<tspan font-size="13" dy="3.3">2</tspan></text>
<text x="678.9" y="345.9" font-size="19" text-anchor="end">LiNiO<tspan font-size="13" dy="3.8">2</tspan></text>
<rect x="123.8" y="440.9" width="23.3" height="16.1" fill="#d0e1c0"/>
<rect x="123.8" y="473.4" width="23.3" height="16.3" fill="#d4b8e1"/>
<text transform="translate(165.6,456.9) scale(0.97,1.055)" font-size="20" font-style="italic">S</text>
<text x="182.6" y="456.8" font-size="20">=</text>
<path d="M515,0 L515,1237 L197,1010 L197,1180 L530,1409 L696,1409 L696,0 Z" transform="translate(201.15,456.9) scale(0.010010,-0.010010)"/>
<text transform="translate(165.6,489.5) scale(0.97,1.055)" font-size="20" font-style="italic">S</text>
<text x="182.6" y="489.4" font-size="20">=</text>
<path d="M204,474.8 L205.3,474.8 L205.3,481.9 L204.1,481.9 L204.1,476.7 Q203,477.7 201.7,478.1 L201.7,476.9 Q203.2,476.2 204,474.8 Z"/>
<line x1="203.4" y1="489.5" x2="214.6" y2="474.4" stroke="#000" stroke-width="1.25"/>
<text x="210.7" y="489.5" font-size="10.8" stroke="#000" stroke-width="0.35">2</text>
<rect x="470.9" y="440.9" width="23.3" height="16.1" fill="#d0e1c0"/>
<rect x="470.9" y="473.4" width="23.3" height="16.3" fill="#d4b8e1"/>
<text transform="translate(512.3,456.9) scale(0.97,1.055)" font-size="20" font-style="italic">S</text>
<text x="529.3" y="456.8" font-size="20">=</text>
<path d="M515,0 L515,1237 L197,1010 L197,1180 L530,1409 L696,1409 L696,0 Z" transform="translate(547.85,456.9) scale(0.010010,-0.010010)"/>
<text transform="translate(512.3,489.5) scale(0.97,1.055)" font-size="20" font-style="italic">S</text>
<text x="529.3" y="489.4" font-size="20">=</text>
<path d="M550.7,474.8 L552,474.8 L552,481.9 L550.8,481.9 L550.8,476.7 Q549.7,477.7 548.4,478.1 L548.4,476.9 Q549.9,476.2 550.7,474.8 Z"/>
<line x1="550.1" y1="489.5" x2="561.3" y2="474.4" stroke="#000" stroke-width="1.25"/>
<text x="557.4" y="489.5" font-size="10.8" stroke="#000" stroke-width="0.35">2</text>
</svg>
</body></html>
